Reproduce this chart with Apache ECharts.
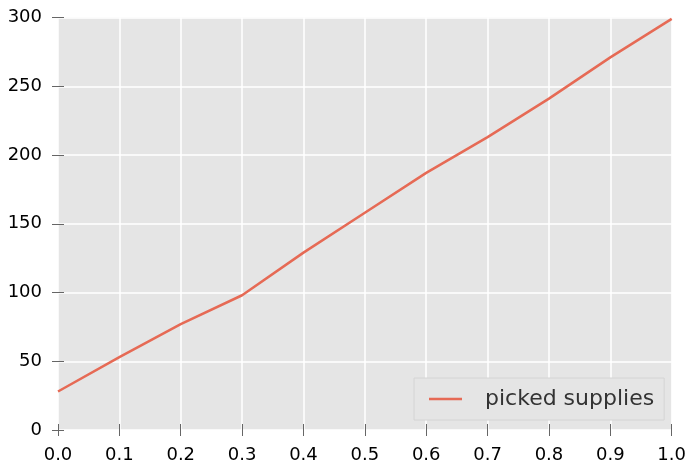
<!DOCTYPE html>
<html>
<head>
<meta charset="utf-8">
<script src="https://cdn.jsdelivr.net/npm/echarts@6/dist/echarts.min.js"></script>
<style>html,body{margin:0;padding:0;background:#fff}#c{width:689px;height:465px}</style>
</head>
<body>
<div id="c"></div>
<script>
const xValues = [0.0, 0.1, 0.2, 0.3, 0.4, 0.5, 0.6, 0.7, 0.8, 0.9, 1.0];
const suppliesValues = [28, 53, 77, 98, 129, 158, 187, 213, 241, 271, 299];
const seriesName = 'picked supplies';

const chart = echarts.init(document.getElementById('c'));
const tickStyle = {show: true, inside: false, length: 6, lineStyle: {color: '#666666', width: 1}};
const font = 'DejaVu Sans';
chart.setOption({
  animation: false,
  backgroundColor: '#ffffff',
  grid: {left: 58, right: 13, top: 17.5, bottom: 35, show: true, backgroundColor: '#E5E5E5', borderWidth: 0},
  legend: {
    left: 414, top: 378,
    padding: [10, 10, 10, 15],
    backgroundColor: '#E5E5E5',
    borderColor: '#d4d4d4', borderWidth: 1,
    itemWidth: 33, itemHeight: 2.5, itemGap: 10,
    icon: 'rect',
    textStyle: {fontFamily: font, fontSize: 22, color: '#333333', lineHeight: 22, padding: [0, 0, 0, 18]},
    data: [seriesName]
  },
  xAxis: [
    {type: 'value', min: 0, max: 1, interval: 0.1,
     axisLine: {show: false}, axisTick: tickStyle,
     axisLabel: {fontFamily: font, fontSize: 18, color: '#000', margin: 16, formatter: v => v.toFixed(1)},
     splitLine: {show: true, lineStyle: {color: '#ffffff', width: 1.5}}},
    {type: 'value', position: 'top', min: 0, max: 1, interval: 0.1,
     axisLine: {show: false}, axisTick: tickStyle, axisLabel: {show: false}, splitLine: {show: false}}
  ],
  yAxis: [
    {type: 'value', min: 0, max: 300, interval: 50,
     axisLine: {show: false}, axisTick: tickStyle,
     axisLabel: {fontFamily: font, fontSize: 18, color: '#000', margin: 16},
     splitLine: {show: true, lineStyle: {color: '#ffffff', width: 1.5}}},
    {type: 'value', position: 'right', min: 0, max: 300, interval: 50,
     axisLine: {show: false}, axisTick: tickStyle, axisLabel: {show: false}, splitLine: {show: false}}
  ],
  series: [{
    name: seriesName, type: 'line', xAxisIndex: 0, yAxisIndex: 0,
    data: xValues.map((x, i) => [x, suppliesValues[i]]),
    symbol: 'none', color: '#E66A55',
    lineStyle: {color: '#E66A55', width: 2.5}
  }]
});
</script>
</body>
</html>
